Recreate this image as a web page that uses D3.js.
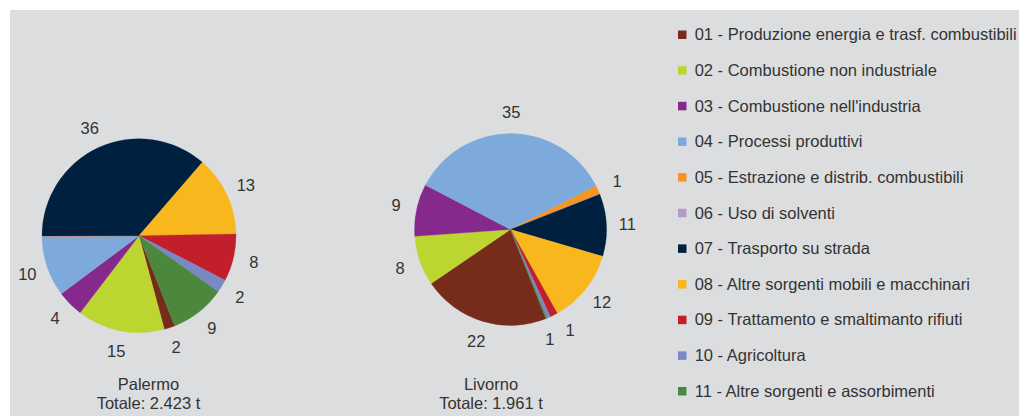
<!DOCTYPE html>
<html>
<head>
<meta charset="utf-8">
<script src="https://cdn.jsdelivr.net/npm/d3@7"></script>
<style>
  html, body { margin: 0; padding: 0; background: #fff; }
  svg { display: block; }
  text { font-family: "Liberation Sans", Arial, sans-serif; fill: #333; }
</style>
</head>
<body>
<svg></svg>
<script>
// categorie emissioni (macrosettori)
const categories = [
  "01 - Produzione energia e trasf. combustibili",
  "02 - Combustione non industriale",
  "03 - Combustione nell'industria",
  "04 - Processi produttivi",
  "05 - Estrazione e distrib. combustibili",
  "06 - Uso di solventi",
  "07 - Trasporto su strada",
  "08 - Altre sorgenti mobili e macchinari",
  "09 - Trattamento e smaltimanto rifiuti",
  "10 - Agricoltura",
  "11 - Altre sorgenti e assorbimenti"
];
const colors = ["#772b1a", "#bdd531", "#86298c", "#7eaadb", "#f7941e", "#b39bc8",
                "#00203f", "#f9b71e", "#c1202a", "#7b88c4", "#4b873c"];

// percentuali
const palermo = [1.8, 14.6, 4.4, 10.0, 0.1, 0.1, 36.4, 13.4, 7.9, 2.2, 9.2];
const livorno = [21.5, 8.4, 8.8, 34.9, 1.4, 0.1, 10.5, 12.4, 1.3, 0.6, 0.2];

const cities = ["Palermo", "Livorno"];
const totals = ["Totale: 2.423 t", "Totale: 1.961 t"];

var width = 1019;
var height = 416;
var fs = "16.5px";

var svg = d3.select("svg")
    .attr("width", width)
    .attr("height", height);

svg.append("rect")
    .attr("x", 10).attr("y", 10)
    .attr("width", width - 10).attr("height", height - 10)
    .attr("fill", "#dcdddf");

var color = d3.scaleOrdinal().domain(categories).range(colors);

var startA = 158.4 * Math.PI / 180;
var pie = d3.pie()
    .sort(null)
    .value(function(d) { return d.value; })
    .startAngle(startA)
    .endAngle(startA + 2 * Math.PI);

var charts = [
  { values: palermo, cx: 139, cy: 235.7, r: 97, tx: 148.5 },
  { values: livorno, cx: 510.5, cy: 229.5, r: 96, tx: 491 }
];

function spread(labels, minGap) {
  labels.sort(function(a, b) { return a.angle - b.angle; });
  for (var it = 0; it < 60; it++) {
    for (var k = 0; k < labels.length - 1; k++) {
      var gap = labels[k + 1].angle - labels[k].angle;
      if (gap < minGap) {
        var push = (minGap - gap) / 2;
        labels[k].angle -= push;
        labels[k + 1].angle += push;
      }
    }
  }
  return labels;
}

charts.forEach(function(c, i) {
  var data = c.values.map(function(v, j) { return { key: categories[j], value: v }; });
  var arcs = pie(data);

  var g = svg.append("g")
      .attr("transform", "translate(" + c.cx + "," + c.cy + ")");

  g.selectAll("path")
    .data(arcs)
    .enter()
    .append("path")
    .attr("d", d3.arc().innerRadius(0).outerRadius(c.r))
    .attr("fill", function(d) { return color(d.data.key); })
    .attr("stroke", function(d) { return color(d.data.key); })
    .attr("stroke-width", 0.3);

  var labels = arcs
    .filter(function(d) { return Math.round(d.data.value) > 0; })
    .map(function(d) {
      return { text: Math.round(d.data.value), angle: (d.startAngle + d.endAngle) / 2 };
    });
  labels = spread(labels, 11 * Math.PI / 180);

  var lr = c.r + 21;
  g.selectAll("text.lbl")
    .data(labels)
    .enter()
    .append("text")
    .attr("class", "lbl")
    .attr("x", function(d) { return lr * Math.sin(d.angle); })
    .attr("y", function(d) { return -lr * Math.cos(d.angle); })
    .attr("dy", "0.35em")
    .attr("text-anchor", "middle")
    .style("font-size", fs)
    .text(function(d) { return d.text; });

  svg.append("text")
    .attr("x", c.tx).attr("y", 384)
    .attr("dy", "0.35em")
    .attr("text-anchor", "middle")
    .style("font-size", fs)
    .text(cities[i]);
  svg.append("text")
    .attr("x", c.tx).attr("y", 403.5)
    .attr("dy", "0.35em")
    .attr("text-anchor", "middle")
    .style("font-size", fs)
    .text(totals[i]);
});

// legenda
var ly = d3.scalePoint().domain(categories).range([34.5, 391]);

var leg = svg.append("g");
var item = leg.selectAll("g")
    .data(categories)
    .enter()
    .append("g")
    .attr("transform", function(d) { return "translate(678," + ly(d) + ")"; });

item.append("rect")
    .attr("x", 0).attr("y", -4)
    .attr("width", 8.5).attr("height", 8.5)
    .attr("fill", function(d) { return color(d); });

item.append("text")
    .attr("x", 16.7)
    .attr("dy", "0.35em")
    .style("font-size", fs)
    .text(function(d) { return d; });
</script>
</body>
</html>
